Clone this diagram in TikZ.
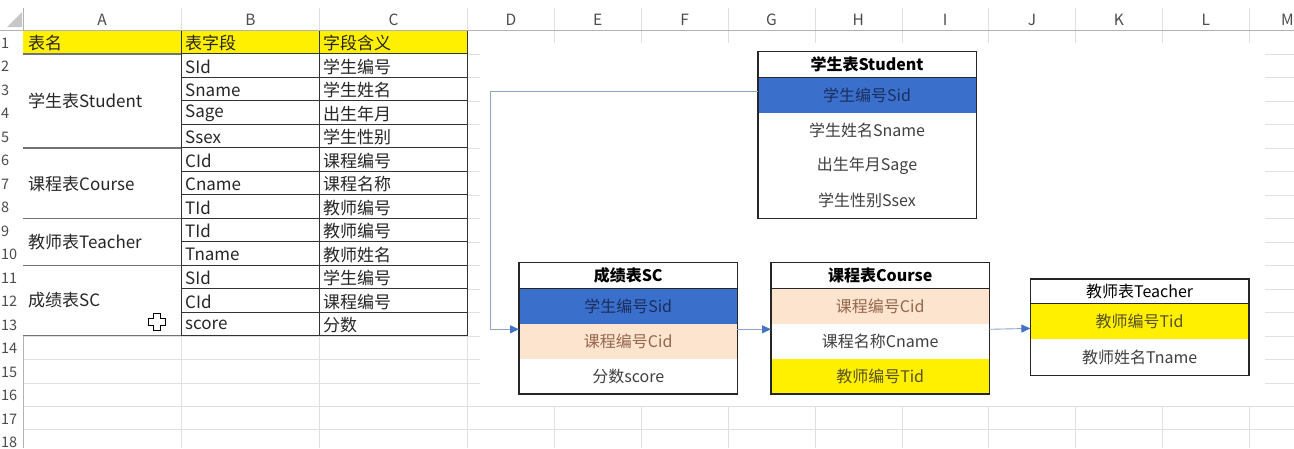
\documentclass[tikz,border=0pt]{standalone}
\usepackage{fontspec}
\setmainfont{Noto Sans CJK SC}
\usetikzlibrary{arrows.meta}

\definecolor{amarillo}{RGB}{255,240,0}
\definecolor{azul}{RGB}{58,112,204}
\definecolor{melocoton}{RGB}{252,228,206}
\definecolor{rejilla}{RGB}{224,224,224}
\definecolor{flecha}{RGB}{140,165,200}
\definecolor{puntaflecha}{RGB}{68,114,196}
\definecolor{marron}{RGB}{150,102,76}
\definecolor{azuloscuro}{RGB}{28,46,92}
\definecolor{oliva}{RGB}{88,82,40}

\tikzset{
  celda/.style={anchor=west, inner sep=0pt, font=\fontsize{17}{20}\selectfont, text=black!85},
  cabecera/.style={inner sep=0pt, font=\fontsize{15.5}{18}\selectfont, text=black!70},
  numero/.style={cabecera, anchor=west, font=\fontsize{14.5}{17}\selectfont},
  borde/.style={draw=black!80, line width=1pt},
  fila/.style={minimum width=218pt, minimum height=35.2pt, inner sep=0pt, anchor=north west,
    font=\fontsize{16}{19}\selectfont, text=black!75},
  titulo/.style={fila, minimum height=25.6pt, fill=white, text=black, font=\fontsize{16}{19}\selectfont\bfseries},
  marco/.style={draw=black!85, line width=1.4pt},
  enlace/.style={draw=flecha, line width=0.9pt, -{Triangle[length=9pt,width=8pt,color=puntaflecha]}}
}

\begin{document}
\begin{tikzpicture}[x=1pt,y=-1pt]
  \useasboundingbox (0,0) rectangle (1294,448);
  \fill[white] (0,0) rectangle (1294,448);

  % Rejilla
  \foreach \k in {1,...,18}
    \draw[rejilla] (23,{30.5+23.48*\k}) -- (1294,{30.5+23.48*\k});
  \foreach \x in {181.5,319.5,467.5,554.35,641.2,728.05,814.9,901.75,988.6,1075.45,1162.3,1249.15}
    \draw[rejilla] (\x,8) -- (\x,448);
  \fill[white] (480,43) rectangle (1265,406);

  % Cabeceras
  \fill[black!22] (7,27) -- (22,27) -- (22,12) -- cycle;
  \draw[black!30] (0,30.5) -- (1294,30.5);
  \draw[black!30] (23,8) -- (23,448);
  \foreach \letra/\x in {A/102,B/250.5,C/393.5,D/511,E/597.8,F/684.6,G/771.5,H/858.3,I/945.2,J/1032,K/1118.9,L/1205.7,M/1287.5}
    \node[cabecera] (col\letra) at (\x,19.5) {\letra};
  \foreach \k in {1,...,18}
    \node[numero] (fil\k) at (1,{30.5+23.48*(\k-0.5)+1}) {\k};

  % Tabla
  \fill[white] (23,30.5) rectangle (467.5,335.7);
  \fill[amarillo] (23,30.5) rectangle (467.5,54);
  \node[celda] (tnombre) at (28,43) {表名};
  \node[celda] (tcampo) at (185,43) {表字段};
  \node[celda] (tsig) at (323,43) {字段含义};
  \foreach \campo/\sig [count=\i from 2] in {SId/学生编号,Sname/学生姓名,Sage/出生年月,Ssex/学生性别,CId/课程编号,Cname/课程名称,TId/教师编号,TId/教师编号,Tname/教师姓名,SId/学生编号,CId/课程编号,score/分数}{
    \node[celda] (campo\i) at (185,{30.5+23.48*(\i-0.5)+1}) {\campo};
    \node[celda] (sig\i) at (323,{30.5+23.48*(\i-0.5)+1}) {\sig};
  }
  \node[celda] (tstudent) at (28,101) {学生表Student};
  \node[celda] (tcourse) at (28,184) {课程表Course};
  \node[celda] (tteacher) at (28,242) {教师表Teacher};
  \node[celda] (tsc) at (28,300.5) {成绩表SC};
  \foreach \k in {1,...,13}
    \draw[borde] (181.5,{30.5+23.48*\k}) -- (467.5,{30.5+23.48*\k});
  \foreach \k in {1,5,8,10,13}
    \draw[borde, draw=black!55, line width=1.2pt] (23,{30.5+23.48*\k}) -- (181.5,{30.5+23.48*\k});
  \foreach \x in {181.5,319.5,467.5}
    \draw[borde] (\x,30.5) -- (\x,335.7);

  % Cursor
  \draw[black, fill=white, line width=0.8pt] (153,313) -- (160,313) -- (160,318) -- (165,318) -- (165,325)
    -- (160,325) -- (160,330) -- (153,330) -- (153,325) -- (148,325) -- (148,318) -- (153,318) -- cycle;

  % Tabla Student
  \node[titulo] (st) at (757.8,51.7) {学生表Student};
  \foreach \t/\c/\tc [count=\i] in {学生编号Sid/azul/azuloscuro,学生姓名Sname/white/black!75,出生年月Sage/white/black!75,学生性别Ssex/white/black!75}
    \node[fila, fill=\c, text=\tc] (st\i) at (757.8,{77.3+35.2*(\i-1)}) {\t};
  \draw[marco] (st.south west) -- (st.south east);
  \draw[marco] (st.north west) rectangle (st4.south east);

  % Tabla SC
  \node[titulo] (sc) at (519,262.7) {成绩表SC};
  \foreach \t/\c/\tc [count=\i] in {学生编号Sid/azul/azuloscuro,课程编号Cid/melocoton/marron,分数score/white/black!75}
    \node[fila, fill=\c, text=\tc] (sc\i) at (519,{288.3+35*(\i-1)}) {\t};
  \draw[marco] (sc.south west) -- (sc.south east);
  \draw[marco] (sc.north west) rectangle (sc3.south east);

  % Tabla Course
  \node[titulo] (cu) at (771,262.7) {课程表Course};
  \foreach \t/\c/\tc [count=\i] in {课程编号Cid/melocoton/marron,课程名称Cname/white/black!75,教师编号Tid/amarillo/oliva}
    \node[fila, fill=\c, text=\tc] (cu\i) at (771,{288.3+35*(\i-1)}) {\t};
  \draw[marco] (cu.south west) -- (cu.south east);
  \draw[marco] (cu.north west) rectangle (cu3.south east);

  % Tabla Teacher
  \node[titulo, minimum height=24.3pt, font=\fontsize{16}{19}\selectfont] (te) at (1030.4,279) {教师表Teacher};
  \foreach \t/\c/\tc [count=\i] in {教师编号Tid/amarillo/oliva,教师姓名Tname/white/black!75}
    \node[fila, minimum height=35.8pt, fill=\c, text=\tc] (te\i) at (1030.4,{303.3+35.8*(\i-1)}) {\t};
  \draw[marco] (te.south west) -- (te.south east);
  \draw[marco] (te.north west) rectangle (te2.south east);

  % Relaciones
  \draw[enlace] ([yshift=3.5pt]st1.west) -- ++(-267,0) |- ([yshift=-6pt]sc2.north west);
  \draw[enlace] ([yshift=-6pt]sc2.north east) -- ([yshift=-6pt]cu2.north west);
  \draw[enlace] ([yshift=-6pt]cu2.north east) -- ([yshift=-7pt]te1.west);
\end{tikzpicture}
\end{document}
